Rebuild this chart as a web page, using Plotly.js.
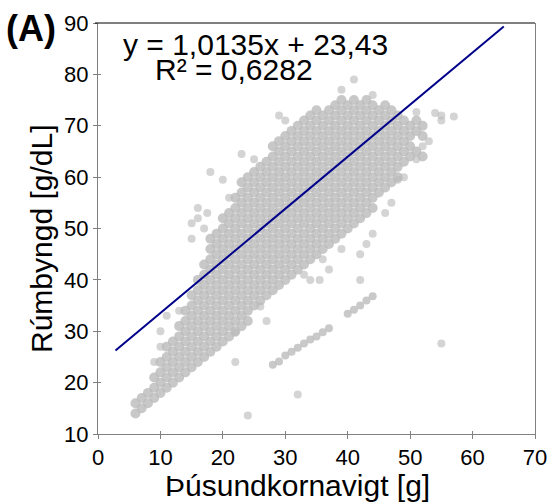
<!DOCTYPE html>
<html>
<head>
<meta charset="utf-8">
<script src="https://cdn.plot.ly/plotly-3.0.1.min.js"></script>
<style>
html,body{margin:0;padding:0;background:#fff;}
#chart{width:554px;height:504px;}
</style>
</head>
<body>
<div id="chart"></div>
<script>
// Thousand kernel weight [g] columns and the bulk density [g/dL] values read in each column
const kernelWeightColumns = [6,7,8,9,10,11,12,13,14,15,16,17,18,19,20,21,22,23,24,25,26,27,28,29,30,31,32,33,34,35,36,37,38,39,40,41,42,43,44,45,46,47,48,49,50,51,52];
const bulkDensityColumns = [
  [14,16],
  [15,17],
  [16,18],
  [17,19,21],
  [18,20,22,24],
  [19,21,23,25,27],
  [20,22,24,26,28],
  [21,23,25,27,29,31],
  [22,24,26,28,30,32,34],
  [23,25,27,29,31,33,35,37],
  [24,26,28,30,32,34,36,38,40],
  [25,27,29,31,33,35,37,39,41,43],
  [26,28,30,32,34,36,38,40,42,44,46,48],
  [27,29,31,33,35,37,39,41,43,45,47,49],
  [28,30,32,34,36,38,40,42,44,46,48,50,52],
  [29,31,33,35,37,39,41,43,45,47,49,51,53],
  [30,32,34,36,38,40,42,44,46,48,50,52,54,56],
  [31,33,35,37,39,41,43,45,47,49,51,53,55,57,59],
  [32,34,36,38,40,42,44,46,48,50,52,54,56,58,60],
  [35,37,39,41,43,45,47,49,51,53,55,57,59,61],
  [36,38,40,42,44,46,48,50,52,54,56,58,60,62],
  [37,39,41,43,45,47,49,51,53,55,57,59,61,63],
  [38,40,42,44,46,48,50,52,54,56,58,60,62,64,66],
  [39,41,43,45,47,49,51,53,55,57,59,61,63,65,67],
  [40,42,44,46,48,50,52,54,56,58,60,62,64,66,68],
  [41,43,45,47,49,51,53,55,57,59,61,63,65,67,69],
  [42,44,46,48,50,52,54,56,58,60,62,64,66,68,70],
  [43,45,47,49,51,53,55,57,59,61,63,65,67,69,71],
  [44,46,48,50,52,54,56,58,60,62,64,66,68,70,72],
  [45,47,49,51,53,55,57,59,61,63,65,67,69,71,73],
  [46,48,50,52,54,56,58,60,62,64,66,68,70,72],
  [47,49,51,53,55,57,59,61,63,65,67,69,71,73],
  [48,50,52,54,56,58,60,62,64,66,68,70,72,74],
  [49,51,53,55,57,59,61,63,65,67,69,71,73,75],
  [50,52,54,56,58,60,62,64,66,68,70,72,74],
  [51,53,55,57,59,61,63,65,67,69,71,73,75],
  [52,54,56,58,60,62,64,66,68,70,72,74],
  [53,55,57,59,61,63,65,67,69,71,73,75],
  [54,56,58,60,62,64,66,68,70,72,74],
  [57,59,61,63,65,67,69,71,73],
  [58,60,62,64,66,68,70,72,74],
  [59,61,63,65,67,69,71,73],
  [60,62,64,66,68,70,72],
  [63,65,67,69,71],
  [64,66,68,70],
  [65,69,71],
  [64,68,70]
];
// Scattered single samples
const outlierWeight  = [9,10,10,11,13,15,15,16,16,17,17.5,18,20,21,23,25,22,22,24,26,27,29,30,32,33,34,35.5,36,37,39,39,41,42,42,43,44,44,46,47,48,49,51,51,53,52,54,55,55,57,55];
const outlierDensity = [24,27,30,33,34,48,51,54,52,50,53,61,59.5,56,64.5,63.5,24,29.7,13.6,34.8,32,72,71,17.7,41,40,40,44,42,46,77,79,40,45,47,49,76,53,55,59.5,60,63.5,72.7,67,66,72.5,71,72,71.8,27.6];
// Separate diagonal stripe of samples
const stripeWeight  = [28,29,30,31,32,33,34,35,36,37,40,41,42,43,44];
const stripeDensity = [23.5,24.1,25.3,26,26.8,27.6,28.4,29,29.8,30.6,33.4,34.2,35,36,36.8];
// Linear fit
const fitSlope = 1.0135;
const fitIntercept = 23.43;
const fitRange = [2.8, 65];
const equationText = "y = 1,0135x + 23,43";
const r2Text = "R² = 0,6282";
const xTitle = "Þúsundkornavigt [g]";
const yTitle = "Rúmbyngd [g/dL]";
const panelLabel = "(A)";

const bodyX = [], bodyY = [];
kernelWeightColumns.forEach((x, i) => {
  bulkDensityColumns[i].forEach(y => { bodyX.push(x); bodyY.push(y); });
});

const FONT = "Liberation Sans, Arial, Helvetica, sans-serif";
const L = 98, R = 19, T = 23, B = 70, W = 554, H = 504;
const pw = W - L - R, ph = H - T - B;
const px = v => (v - L) / pw;
const py = v => (H - B - v) / ph;

const bodyMarker = {size: 10, color: "rgb(186,186,186)", opacity: 0.8, line: {width: 0}};
const looseMarker = {size: 8, color: "rgb(186,186,186)", opacity: 0.62, line: {width: 0}};
const stripeMarker = {size: 8, color: "rgb(186,186,186)", opacity: 0.78, line: {width: 0}};

const traces = [
  {x: bodyX, y: bodyY, type: "scatter", mode: "markers", marker: bodyMarker, hoverinfo: "skip", showlegend: false},
  {x: outlierWeight, y: outlierDensity, type: "scatter", mode: "markers", marker: looseMarker, hoverinfo: "skip", showlegend: false},
  {x: stripeWeight, y: stripeDensity, type: "scatter", mode: "markers", marker: stripeMarker, hoverinfo: "skip", showlegend: false},
  {x: fitRange, y: fitRange.map(v => fitSlope * v + fitIntercept), type: "scatter", mode: "lines",
   line: {color: "rgb(0,0,139)", width: 2}, xaxis: "x2", yaxis: "y2", hoverinfo: "skip", showlegend: false}
];

const tickFont = {family: FONT, size: 22, color: "#000"};
const layout = {
  width: W, height: H,
  margin: {l: L, r: R, t: T, b: B, pad: 0},
  paper_bgcolor: "#fff", plot_bgcolor: "#fff",
  showlegend: false,
  xaxis: {range: [0, 70], tick0: 0, dtick: 10, ticks: "outside", ticklen: 4, tickwidth: 1, tickcolor: "#808080",
          showline: true, linecolor: "#808080", linewidth: 1, showgrid: false, zeroline: false,
          tickfont: tickFont, fixedrange: true},
  yaxis: {range: [10, 90], tick0: 10, dtick: 10, ticks: "outside", ticklen: 4, tickwidth: 1, tickcolor: "#808080",
          showline: true, linecolor: "#808080", linewidth: 1, mirror: true, showgrid: false, zeroline: false,
          tickfont: tickFont, fixedrange: true},
  xaxis2: {range: [0, 70], overlaying: "x", side: "bottom", tick0: 0, dtick: 10, ticks: "inside", ticklen: 3,
           tickcolor: "#808080", showticklabels: false, showline: false, showgrid: false, zeroline: false, fixedrange: true},
  yaxis2: {range: [10, 90], overlaying: "y", side: "left", tick0: 10, dtick: 10, ticks: "inside", ticklen: 3,
           tickcolor: "#808080", showticklabels: false, showline: false, showgrid: false, zeroline: false, fixedrange: true},
  shapes: [
    {type: "line", xref: "paper", yref: "paper", x0: px(95), x1: 1, y0: 1, y1: 1, line: {color: "#000", width: 1}}
  ],
  annotations: [
    {text: "<b>" + panelLabel + "</b>", xref: "paper", yref: "paper", x: px(31), y: py(29), xanchor: "center", yanchor: "middle",
     showarrow: false, font: {family: FONT, size: 36, color: "#000"}},
    {text: equationText, xref: "paper", yref: "paper", x: px(121), y: py(44), xanchor: "left", yanchor: "middle",
     showarrow: false, font: {family: FONT, size: 30, color: "#000"}},
    {text: r2Text, xref: "paper", yref: "paper", x: px(153), y: py(70), xanchor: "left", yanchor: "middle",
     showarrow: false, font: {family: FONT, size: 30, color: "#000"}},
    {text: xTitle, xref: "paper", yref: "paper", x: px(297), y: py(485), xanchor: "center", yanchor: "middle",
     showarrow: false, font: {family: FONT, size: 30, color: "#000"}},
    {text: yTitle, xref: "paper", yref: "paper", x: px(41), y: py(239), xanchor: "center", yanchor: "middle", textangle: -90,
     showarrow: false, font: {family: FONT, size: 30, color: "#000"}}
  ]
};

Plotly.newPlot("chart", traces, layout, {displayModeBar: false, staticPlot: true});
</script>
</body>
</html>
